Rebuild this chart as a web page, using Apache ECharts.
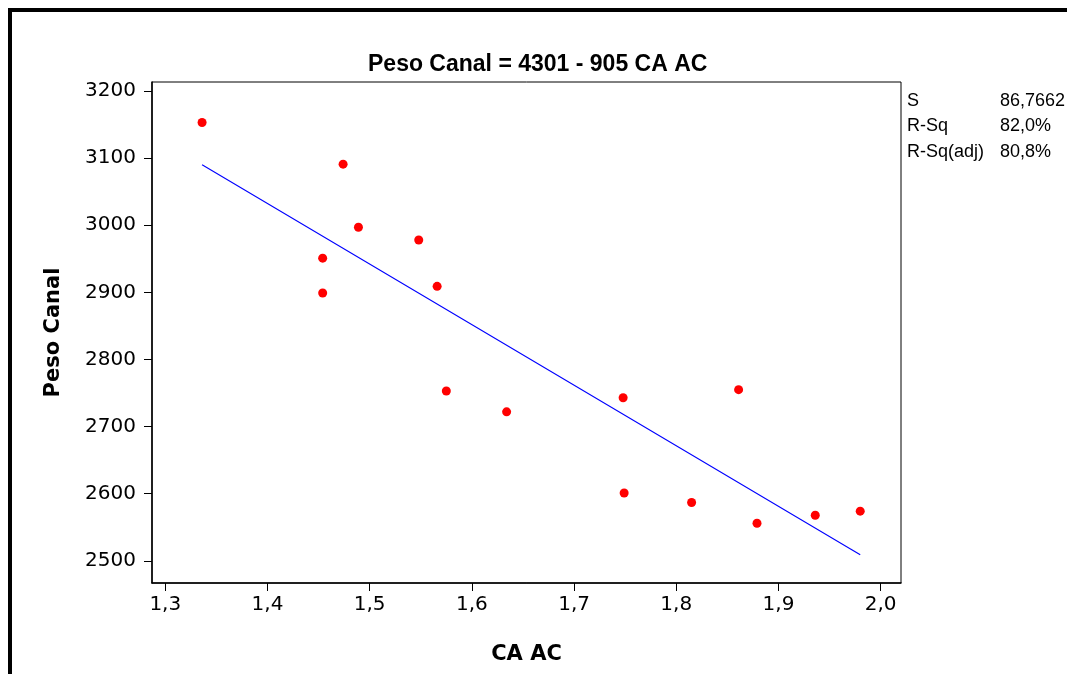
<!DOCTYPE html>
<html>
<head>
<meta charset="utf-8">
<script src="https://cdn.jsdelivr.net/npm/echarts@6/dist/echarts.min.js"></script>
<style>
html,body{margin:0;padding:0;background:#fff;}
#chart{width:1067px;height:674px;}
</style>
</head>
<body>
<div id="chart"></div>
<script>
// Observed data (CA AC vs Peso Canal)
const caAC = [1.336, 1.474, 1.489, 1.548, 1.454, 1.454, 1.566, 1.575, 1.634, 1.748, 1.861, 1.749, 1.815, 1.879, 1.936, 1.980];
const pesoCanal = [3153, 3091, 2997, 2978, 2951, 2899, 2909, 2753, 2722, 2743, 2755, 2601, 2587, 2556, 2568, 2574];

// Fitted line endpoints (Peso Canal = 4301 - 905 CA AC)
const fitX = [1.336, 1.980];
const fitY = [3090, 2509];

// Axis ticks
const xTicks = [1.3, 1.4, 1.5, 1.6, 1.7, 1.8, 1.9, 2.0];
const xTickLabels = ['1,3', '1,4', '1,5', '1,6', '1,7', '1,8', '1,9', '2,0'];
const yTicks = [2500, 2600, 2700, 2800, 2900, 3000, 3100, 3200];
const yTickLabels = ['2500', '2600', '2700', '2800', '2900', '3000', '3100', '3200'];

// Summary statistics
const statNames = ['S', 'R-Sq', 'R-Sq(adj)'];
const statValues = ['86,7662', '82,0%', '80,8%'];

const chart = echarts.init(document.getElementById('chart'), null, {renderer: 'canvas'});

function labelFor(ticks, labels) {
  return function (v) {
    for (let i = 0; i < ticks.length; i++) {
      if (Math.abs(ticks[i] - v) < 1e-6) return labels[i];
    }
    return '';
  };
}

const graphics = [
  {
    type: 'polyline',
    shape: {points: [[10, 674], [10, 10], [1067, 10]]},
    style: {stroke: '#000', lineWidth: 4, fill: null},
    z: 100
  }
];
statNames.forEach((n, i) => {
  graphics.push({
    type: 'text', left: 907, top: 92 + i * 25.5,
    style: {text: n, fontFamily: 'Liberation Sans, Arial, sans-serif', fontSize: 18, fill: '#000'}
  });
  graphics.push({
    type: 'text', left: 1000, top: 92 + i * 25.5,
    style: {text: statValues[i], fontFamily: 'Liberation Sans, Arial, sans-serif', fontSize: 18, fill: '#000'}
  });
});

const option = {
  backgroundColor: '#fff',
  animation: false,
  title: {
    text: 'Peso Canal = 4301 - 905 CA AC',
    left: 368, top: 53, padding: 0,
    textStyle: {fontFamily: 'Liberation Sans, Arial, sans-serif', fontWeight: 'bold', fontSize: 23, color: '#000'}
  },
  grid: {
    left: 152, top: 82, width: 749, height: 501,
    show: true, borderColor: '#000', borderWidth: 1, backgroundColor: '#fff'
  },
  xAxis: {
    type: 'value',
    min: 1.287, max: 2.0199,
    name: 'CA AC', nameLocation: 'middle', nameGap: 61,
    nameTextStyle: {fontFamily: 'DejaVu Sans', fontWeight: 'bold', fontSize: 21, color: '#000'},
    axisLine: {show: true, lineStyle: {color: '#000', width: 1.5}},
    axisTick: {show: true, inside: false, length: 8, lineStyle: {color: '#000'}, customValues: xTicks},
    axisLabel: {
      customValues: xTicks, margin: 12,
      fontFamily: 'DejaVu Sans', fontSize: 20, color: '#000',
      formatter: labelFor(xTicks, xTickLabels)
    },
    splitLine: {show: false}
  },
  yAxis: {
    type: 'value',
    min: 2467, max: 3213.4,
    name: 'Peso Canal', nameLocation: 'middle', nameGap: 88, nameRotate: 90,
    nameTextStyle: {fontFamily: 'DejaVu Sans', fontWeight: 'bold', fontSize: 21, color: '#000'},
    axisLine: {show: true, lineStyle: {color: '#000', width: 1.5}},
    axisTick: {show: true, inside: false, length: 8, lineStyle: {color: '#000'}, customValues: yTicks},
    axisLabel: {
      customValues: yTicks, margin: 16,
      fontFamily: 'DejaVu Sans', fontSize: 20, color: '#000',
      formatter: labelFor(yTicks, yTickLabels)
    },
    splitLine: {show: false}
  },
  series: [
    {
      type: 'line',
      data: fitX.map((x, i) => [x, fitY[i]]),
      symbol: 'none',
      lineStyle: {color: '#0000ff', width: 1.2},
      z: 2
    },
    {
      type: 'scatter',
      data: caAC.map((x, i) => [x, pesoCanal[i]]),
      symbol: 'circle', symbolSize: 9,
      itemStyle: {color: '#ff0000', opacity: 1},
      z: 3
    }
  ],
  graphic: graphics
};
chart.setOption(option);
</script>
</body>
</html>
